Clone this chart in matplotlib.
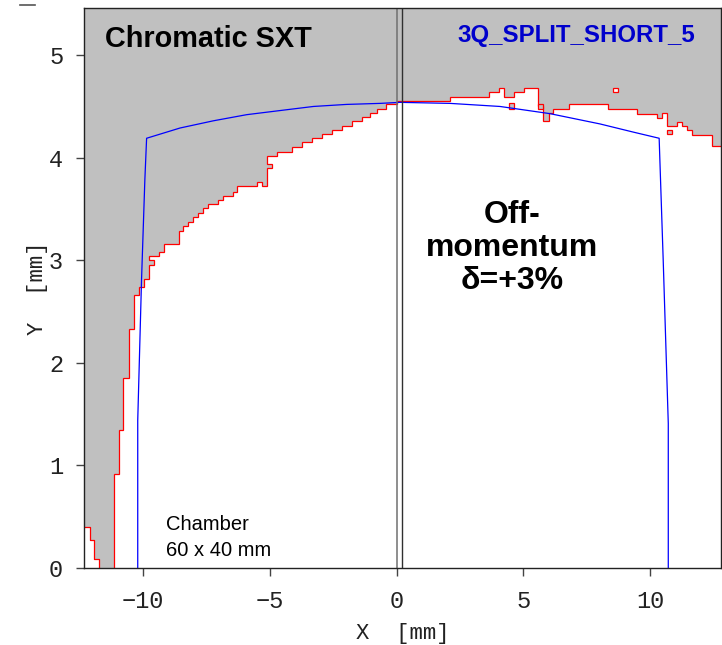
import matplotlib
matplotlib.use("Agg")
import matplotlib.pyplot as plt
from matplotlib.lines import Line2D
from matplotlib.patches import Rectangle

# ---- data -------------------------------------------------------------
# vacuum chamber aperture (projected), mm
aperture_x = [-10.21, -10.21, -10.06, -9.93, -9.86, -8.54, -7.23, -5.91, -4.60,
              -3.28, -1.97, -0.65, 0.13, 2.11, 4.08, 6.05, 8.02, 9.34, 10.36,
              10.52, 10.72, 10.72]
aperture_y = [0.00, 1.44, 2.81, 3.78, 4.19, 4.29, 4.36, 4.42, 4.46,
              4.50, 4.52, 4.53, 4.54, 4.53, 4.50, 4.43, 4.33, 4.25, 4.19,
              3.00, 1.41, 0.00]

# dynamic aperture border as a staircase: vertical step at x_i up to y_i,
# then horizontal at y_i to x_{i+1}
da_step_x = [-11.14, -10.94, -10.78, -10.56, -10.36, -10.16, -9.96, -9.77, -9.57,
             -9.77, -9.36, -9.16, -8.58, -8.41, -8.22, -8.02, -7.82, -7.62,
             -7.43, -7.03, -6.84, -6.47, -6.28, -5.52, -5.32, -5.13, -4.93,
             -5.13, -4.70, -4.11, -3.72, -3.35, -2.95, -2.56, -2.17, -1.77,
             -1.38, -1.05, -0.79, -0.43, 0.00, 2.11, 3.66, 4.04, 4.24, 4.63,
             5.03, 5.59, 5.79, 6.02, 6.18, 6.81, 8.35, 9.50, 10.28, 10.48,
             10.68, 11.07, 11.25, 11.44, 11.64, 12.43]
da_step_y = [0.92, 1.345, 1.855, 2.33, 2.66, 2.74, 2.82, 2.95, 3.00,
             3.04, 3.08, 3.16, 3.29, 3.33, 3.375, 3.42, 3.46, 3.51,
             3.55, 3.59, 3.63, 3.67, 3.72, 3.76, 3.72, 3.90, 3.94,
             4.02, 4.06, 4.10, 4.15, 4.19, 4.23, 4.27, 4.31, 4.36,
             4.40, 4.44, 4.48, 4.52, 4.555, 4.59, 4.64, 4.68, 4.59, 4.64,
             4.68, 4.50, 4.36, 4.44, 4.48, 4.52, 4.48, 4.43, 4.39, 4.44,
             4.31, 4.35, 4.31, 4.27, 4.22, 4.11]

# small stable pocket in the lower-left corner: level y_i runs up to x_i
corner_step_x = [-12.10, -11.94, -11.74]
corner_step_y = [0.40, 0.27, 0.09]

# isolated grid cells (x0, x1, y0, y1) and whether they are stable
cell_x0 = [8.55, 10.67, 4.45, 5.59]
cell_x1 = [8.75, 10.86, 4.63, 5.79]
cell_y0 = [4.64, 4.23, 4.48, 4.48]
cell_y1 = [4.68, 4.27, 4.53, 4.52]
cell_stable = [True, False, False, False]

x_range = (-12.33, 12.80)
y_range = (0.0, 5.46)
x_ticks = [-10, -5, 0, 5, 10]
y_ticks = [0, 1, 2, 3, 4, 5]
split_x = [0.0, 0.22]


def staircase(xs, ys, x_end):
    """Step outline: rise at x_i to y_i, then run along y_i to x_{i+1}."""
    px, py = [xs[0]], [0.0]
    for i, (x, y) in enumerate(zip(xs, ys)):
        nx = xs[i + 1] if i + 1 < len(xs) else x_end
        px += [x, nx]
        py += [y, y]
    return px, py


def corner_outline(xs, ys, x_left):
    """Step outline of a pocket anchored at the left axis edge."""
    px, py = [x_left], [ys[0]]
    for i, (x, y) in enumerate(zip(xs, ys)):
        ny = ys[i + 1] if i + 1 < len(ys) else 0.0
        px += [x, x]
        py += [y, ny]
    return px, py


# ---- figure -------------------------------------------------------------
GRAY = "#c0c0c0"
mono = ["Liberation Mono", "DejaVu Sans Mono"]
sans = ["Liberation Sans", "DejaVu Sans"]

fig = plt.figure(figsize=(7.22, 6.45), dpi=100)
ax = fig.add_axes([84 / 722, 1 - 568 / 645, (721 - 84) / 722, (568 - 8) / 645])
ax.set_facecolor(GRAY)

# stable region
bx, by = staircase(da_step_x, da_step_y, x_range[1])
fx = bx + [x_range[1], da_step_x[0]]
fy = by + [0.0, 0.0]
ax.fill(fx, fy, color="white", lw=0, zorder=1)
ax.plot(bx, by, color="red", lw=0.9, zorder=3, solid_joinstyle="miter")

cx, cy = corner_outline(corner_step_x, corner_step_y, x_range[0])
ax.fill([x_range[0]] + cx, [0.0] + cy, color="white", lw=0, zorder=1)
ax.plot(cx, cy, color="red", lw=0.9, zorder=3)

for x0, x1, y0, y1, st in zip(cell_x0, cell_x1, cell_y0, cell_y1, cell_stable):
    ax.add_patch(Rectangle((x0, y0), x1 - x0, y1 - y0,
                           facecolor="white" if st else GRAY,
                           edgecolor="red", lw=0.9, zorder=3))

# chamber aperture
ax.plot(aperture_x, aperture_y, color="#0000ff", lw=0.9, zorder=4)

# split lines
ax.axvline(split_x[0], color="#707070", lw=1.1, zorder=5)
ax.axvline(split_x[1], color="#303030", lw=1.0, zorder=5)

ax.set_xlim(*x_range)
ax.set_ylim(*y_range)
ax.set_xticks(x_ticks)
ax.set_yticks(y_ticks)
ax.set_xticklabels([("\u2212" + str(-t)) if t < 0 else str(t) for t in x_ticks])
ax.tick_params(direction="out", length=6, width=1, color="#444444",
               labelsize=17, pad=10)
ax.tick_params(axis="y", pad=9)
for lab in ax.get_xticklabels() + ax.get_yticklabels():
    lab.set_family(mono)
    lab.set_color("#222222")
for s in ax.spines.values():
    s.set_linewidth(1.0)
    s.set_color("#222222")
    s.set_zorder(6)

ax.set_xlabel("X  [mm]", family=mono, fontsize=16, color="#222222", labelpad=7)
ax.set_ylabel("Y  [mm]", family=mono, fontsize=16, color="#222222", labelpad=1)

# annotations
ax.text(0.033, 0.930, "Chromatic SXT", transform=ax.transAxes, family=sans,
        fontsize=20.8, fontweight="bold", va="baseline", ha="left", zorder=7)
ax.text(0.5856, 0.939, "3Q_SPLIT_SHORT_5", transform=ax.transAxes, family=sans,
        fontsize=17.3, fontweight="bold", color="#0000cc", va="baseline",
        ha="left", zorder=7)
ax.text(0.672, 0.571, "Off-\nmomentum\n\u03b4=+3%", transform=ax.transAxes,
        family=sans, fontsize=23, fontweight="bold", va="center", ha="center",
        multialignment="center", linespacing=1.12, zorder=7)
ax.text(0.1287, 0.068, "Chamber", transform=ax.transAxes, family=sans,
        fontsize=14.5, va="baseline", ha="left", zorder=7)
ax.text(0.1287, 0.021, "60 x 40 mm", transform=ax.transAxes, family=sans,
        fontsize=14.5, va="baseline", ha="left", zorder=7)

# short mark in the upper-left margin
fig.add_artist(Line2D([20 / 722, 35 / 722], [1 - 5 / 645, 1 - 5 / 645],
                      color="#555555", lw=1.2))

fig.savefig("out.png", dpi=100)
